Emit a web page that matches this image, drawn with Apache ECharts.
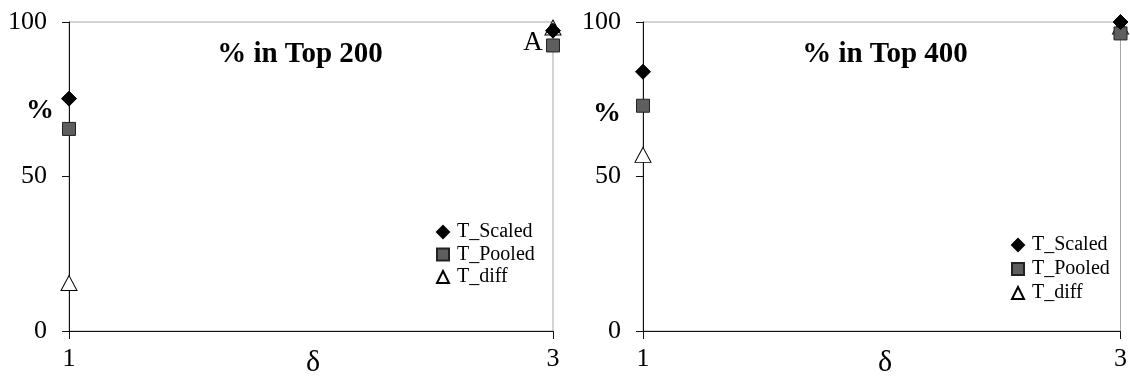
<!DOCTYPE html>
<html>
<head>
<meta charset="utf-8">
<script src="https://cdn.jsdelivr.net/npm/echarts@6/dist/echarts.min.js"></script>
<style>
html,body{margin:0;padding:0;background:#fff;}
#c{width:1130px;height:381px;}
</style>
</head>
<body>
<div id="c"></div>
<script>
// x positions (delta)
const deltas = [1, 3];
const yTicks = [0, 50, 100];
// % in Top 200
const top200_scaled = [75.2, 97.2];
const top200_pooled = [65.4, 92.4];
const top200_diff   = [15.5, 98.2];
// % in Top 400
const top400_scaled = [83.9, 100];
const top400_pooled = [72.9, 96.3];
const top400_diff   = [57.0, 98.5];

const pairs = ys => deltas.map((d, i) => [d, ys[i]]);
const FONT = '"Liberation Serif", "Times New Roman", serif';

const chart = echarts.init(document.getElementById('c'), null, {renderer: 'canvas'});

function xAxis(gi) {
  return {
    gridIndex: gi, type: 'value', min: 1, max: 3,
    axisLine: {show: true, lineStyle: {color: '#111', width: 1}},
    axisTick: {show: true, length: 8, inside: false, customValues: deltas, lineStyle: {color: '#111'}},
    axisLabel: {show: true, customValues: deltas, margin: 15, fontFamily: FONT, fontSize: 26, color: '#000'},
    splitLine: {show: false}
  };
}
function yAxis(gi) {
  return {
    gridIndex: gi, type: 'value', min: 0, max: 100, interval: 50,
    axisLine: {show: true, lineStyle: {color: '#111', width: 1}},
    axisTick: {show: true, length: 7, lineStyle: {color: '#111'}},
    axisLabel: {margin: 22, fontFamily: FONT, fontSize: 26, color: '#000',
      formatter: v => yTicks.includes(v) ? String(v) : ''},
    splitLine: {show: false}
  };
}
const styles = {
  T_Scaled: {symbol: 'diamond', symbolSize: 15, itemStyle: {color: '#000', borderColor: '#000', borderWidth: 1, opacity: 1}, z: 4},
  T_Pooled: {symbol: 'rect', symbolSize: 13, itemStyle: {color: '#5e5e5e', borderColor: '#222', borderWidth: 1, opacity: 1}, z: 3},
  T_diff:   {symbol: 'triangle', symbolSize: [16, 15], itemStyle: {color: '#fff', borderColor: '#000', borderWidth: 1, opacity: 1}, z: 2}
};
function series(name, gi, ys) {
  const s = styles[name];
  return {
    name, type: 'scatter', xAxisIndex: gi, yAxisIndex: gi,
    symbol: s.symbol, symbolSize: s.symbolSize, itemStyle: s.itemStyle, z: s.z,
    data: pairs(ys), emphasis: {disabled: true}, animation: false
  };
}
function legend(left, top, gap) {
  return {
    orient: 'vertical', left, top, padding: 0, itemWidth: 12, itemHeight: 12, itemGap: gap,
    data: [
      {name: 'T_Scaled', icon: 'diamond'},
      {name: 'T_Pooled', icon: 'rect'},
      {name: 'T_diff', icon: 'triangle'}
    ],
    textStyle: {fontFamily: FONT, fontSize: 20, lineHeight: 20, color: '#000', padding: [0, 0, 0, 3]},
    selectedMode: false
  };
}

chart.setOption({
  animation: false,
  backgroundColor: '#fff',
  title: [
    {text: '% in Top 200', left: 295, top: 35, textAlign: 'center',
     textStyle: {fontFamily: FONT, fontSize: 29, fontWeight: 'bold', color: '#000'}},
    {text: '% in Top 400', left: 880, top: 35, textAlign: 'center',
     textStyle: {fontFamily: FONT, fontSize: 29, fontWeight: 'bold', color: '#000'}}
  ],
  grid: [
    {left: 69, top: 22, width: 484, height: 309, show: true, borderColor: '#a8a8a8', borderWidth: 1},
    {left: 643, top: 22, width: 483, height: 309, show: true, borderColor: '#a8a8a8', borderWidth: 1}
  ],
  xAxis: [xAxis(0), xAxis(1)],
  yAxis: [yAxis(0), yAxis(1)],
  legend: [legend(436, 222, 2.5), legend(1011, 235, 4)],
  series: [
    series('T_diff', 0, top200_diff),
    series('T_Pooled', 0, top200_pooled),
    series('T_Scaled', 0, top200_scaled),
    series('T_diff', 1, top400_diff),
    series('T_Pooled', 1, top400_pooled),
    series('T_Scaled', 1, top400_scaled)
  ],
  graphic: [
    {type: 'text', x: 40, y: 111, style: {text: '%', font: 'bold 28px ' + FONT, fill: '#000', textAlign: 'center', textVerticalAlign: 'middle'}},
    {type: 'text', x: 607, y: 114, style: {text: '%', font: 'bold 28px ' + FONT, fill: '#000', textAlign: 'center', textVerticalAlign: 'middle'}},
    {type: 'text', x: 313, y: 363, style: {text: 'δ', font: '30px ' + FONT, fill: '#000', textAlign: 'center', textVerticalAlign: 'middle'}},
    {type: 'text', x: 885, y: 363, style: {text: 'δ', font: '30px ' + FONT, fill: '#000', textAlign: 'center', textVerticalAlign: 'middle'}},
    {type: 'text', x: 533, y: 43, style: {text: 'A', font: '27px ' + FONT, fill: '#000', textAlign: 'center', textVerticalAlign: 'middle'}}
  ]
});
</script>
</body>
</html>
